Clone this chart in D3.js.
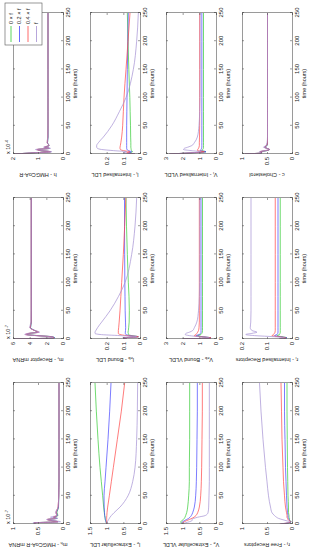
<!DOCTYPE html>
<html>
<head>
<meta charset="utf-8">
<script src="https://cdn.jsdelivr.net/npm/d3@7"></script>
<style>
  body { margin: 0; background: #fff; }
  text { font-family: "Liberation Sans", Arial, sans-serif; fill: #222; }
</style>
</head>
<body>
<div id="chart"></div>
<script>
// sample times shared by every panel
const hours = [0, 2, 4, 6, 8, 10, 12, 15, 20, 30, 50, 75, 100, 150, 200, 250];
const timeTicks = [0, 50, 100, 150, 200, 250];
const seriesNames = ["0 \u00d7 f", "0.2 \u00d7 f", "0.4 \u00d7 f", "f"];
const seriesColors = ["#33cc33", "#4444ff", "#ff4444", "#a48fd2"];

// each panel: [green, blue, red, purple]
const mhRna = [
  [0.55, 0.58, 0.10, 0.22, 0.30, 0.12, 0.18, 0.10, 0.12, 0.09, 0.085, 0.08, 0.08, 0.08, 0.08, 0.08],
  [0.55, 0.58, 0.10, 0.22, 0.30, 0.13, 0.19, 0.11, 0.13, 0.09, 0.085, 0.08, 0.08, 0.08, 0.08, 0.08],
  [0.55, 0.58, 0.10, 0.23, 0.32, 0.14, 0.20, 0.12, 0.14, 0.10, 0.085, 0.08, 0.08, 0.08, 0.08, 0.08],
  [0.55, 0.60, 0.05, 0.20, 0.33, 0.10, 0.25, 0.12, 0.15, 0.10, 0.085, 0.08, 0.08, 0.08, 0.08, 0.08]
];
const mrRna = [
  [5.8, 1.0, 1.3, 3.0, 4.3, 4.0, 3.1, 3.4, 3.9, 3.8, 3.8, 3.8, 3.8, 3.8, 3.8, 3.8],
  [5.8, 1.0, 1.3, 3.1, 4.4, 4.0, 3.0, 3.4, 3.9, 3.8, 3.8, 3.8, 3.8, 3.8, 3.8, 3.8],
  [5.8, 1.1, 1.4, 3.2, 4.5, 4.1, 2.9, 3.4, 3.95, 3.82, 3.82, 3.82, 3.82, 3.82, 3.82, 3.82],
  [5.8, 1.2, 1.5, 3.3, 4.6, 4.2, 2.8, 3.3, 4.0, 3.85, 3.83, 3.83, 3.83, 3.83, 3.83, 3.83]
];
const hmgcoar = [
  [1.95, 1.2, 0.50, 0.90, 1.00, 0.55, 0.72, 0.56, 0.62, 0.60, 0.60, 0.60, 0.60, 0.60, 0.60, 0.60],
  [1.95, 1.2, 0.50, 0.90, 1.02, 0.55, 0.73, 0.56, 0.62, 0.60, 0.60, 0.60, 0.60, 0.60, 0.60, 0.60],
  [1.95, 1.2, 0.50, 0.90, 1.05, 0.55, 0.75, 0.56, 0.63, 0.61, 0.60, 0.60, 0.60, 0.60, 0.60, 0.60],
  [1.95, 1.25, 0.45, 0.85, 1.10, 0.50, 0.78, 0.55, 0.64, 0.61, 0.60, 0.60, 0.60, 0.60, 0.60, 0.60]
];
const leLdl = [
  [1, 1.01, 1.02, 1.03, 1.04, 1.045, 1.05, 1.06, 1.07, 1.09, 1.12, 1.16, 1.20, 1.26, 1.31, 1.35],
  [1, 1.01, 1.02, 1.03, 1.04, 1.045, 1.05, 1.06, 1.065, 1.075, 1.08, 1.05, 1.02, 0.96, 0.91, 0.87],
  [1, 1.0, 1.0, 1.0, 1.0, 1.0, 1.0, 0.995, 0.99, 0.97, 0.92, 0.86, 0.80, 0.68, 0.56, 0.46],
  [1, 0.99, 0.98, 0.96, 0.94, 0.92, 0.90, 0.86, 0.78, 0.60, 0.36, 0.22, 0.15, 0.10, 0.08, 0.07]
];
const lebLdl = [
  [0.08, 0.10, 0.01, 0.05, 0.07, 0.07, 0.072, 0.07, 0.068, 0.065, 0.064, 0.066, 0.07, 0.076, 0.081, 0.084],
  [0.08, 0.10, 0.01, 0.06, 0.085, 0.088, 0.088, 0.087, 0.086, 0.087, 0.089, 0.09, 0.091, 0.092, 0.093, 0.093],
  [0.08, 0.10, 0.01, 0.08, 0.12, 0.13, 0.13, 0.13, 0.128, 0.125, 0.12, 0.115, 0.11, 0.10, 0.092, 0.085],
  [0.08, 0.10, 0.02, 0.12, 0.24, 0.27, 0.27, 0.265, 0.255, 0.23, 0.18, 0.13, 0.09, 0.05, 0.03, 0.02]
];
const liLdl = [
  [0.03, 0.06, 0.045, 0.05, 0.053, 0.054, 0.055, 0.055, 0.055, 0.056, 0.057, 0.059, 0.061, 0.067, 0.072, 0.076],
  [0.03, 0.07, 0.05, 0.07, 0.078, 0.08, 0.08, 0.08, 0.08, 0.08, 0.08, 0.079, 0.078, 0.076, 0.073, 0.07],
  [0.03, 0.08, 0.06, 0.10, 0.118, 0.12, 0.12, 0.118, 0.115, 0.11, 0.104, 0.10, 0.096, 0.084, 0.072, 0.06],
  [0.03, 0.10, 0.08, 0.16, 0.23, 0.255, 0.26, 0.26, 0.25, 0.22, 0.17, 0.124, 0.084, 0.04, 0.02, 0.01]
];
const veVldl = [
  [1, 1.05, 1.06, 1.02, 0.98, 0.95, 0.93, 0.91, 0.88, 0.85, 0.82, 0.80, 0.80, 0.79, 0.79, 0.79],
  [1, 1.03, 1.00, 0.95, 0.88, 0.82, 0.78, 0.74, 0.70, 0.65, 0.61, 0.59, 0.58, 0.57, 0.56, 0.56],
  [1, 1.00, 0.95, 0.88, 0.80, 0.72, 0.66, 0.60, 0.55, 0.50, 0.46, 0.44, 0.43, 0.42, 0.41, 0.41],
  [1, 0.92, 0.80, 0.72, 0.72, 0.66, 0.55, 0.32, 0.24, 0.22, 0.21, 0.20, 0.20, 0.20, 0.20, 0.20]
];
const vebVldl = [
  [2.0, 0.3, 0.8, 1.1, 0.9, 0.85, 0.82, 0.81, 0.81, 0.81, 0.81, 0.81, 0.81, 0.81, 0.81, 0.81],
  [2.0, 0.3, 0.8, 1.2, 1.0, 0.93, 0.90, 0.90, 0.90, 0.90, 0.90, 0.90, 0.90, 0.90, 0.90, 0.90],
  [2.0, 0.3, 0.9, 1.3, 1.2, 1.15, 1.10, 1.05, 1.02, 1.0, 1.0, 1.0, 1.0, 1.0, 1.0, 1.0],
  [2.0, 0.4, 1.0, 1.6, 1.85, 1.80, 1.60, 1.40, 1.30, 1.15, 1.05, 1.0, 0.98, 0.97, 0.97, 0.97]
];
const viVldl = [
  [2.8, 1.5, 0.6, 0.85, 0.80, 0.76, 0.75, 0.75, 0.75, 0.75, 0.75, 0.75, 0.75, 0.75, 0.75, 0.75],
  [2.8, 1.5, 0.6, 0.95, 0.90, 0.87, 0.85, 0.85, 0.85, 0.85, 0.85, 0.85, 0.85, 0.85, 0.85, 0.85],
  [2.8, 1.5, 0.7, 1.10, 1.10, 1.05, 1.02, 1.0, 1.0, 0.99, 0.98, 0.98, 0.98, 0.98, 0.98, 0.98],
  [2.8, 1.6, 0.9, 1.50, 1.95, 1.90, 1.70, 1.45, 1.30, 1.12, 1.02, 0.98, 0.96, 0.95, 0.95, 0.95]
];
const rfFree = [
  [0.20, 0.05, 0.02, 0.04, 0.05, 0.05, 0.06, 0.06, 0.07, 0.07, 0.08, 0.085, 0.09, 0.095, 0.10, 0.10],
  [0.22, 0.06, 0.02, 0.05, 0.06, 0.07, 0.08, 0.08, 0.09, 0.10, 0.11, 0.12, 0.13, 0.14, 0.15, 0.15],
  [0.24, 0.08, 0.03, 0.06, 0.08, 0.09, 0.10, 0.10, 0.11, 0.13, 0.15, 0.17, 0.18, 0.20, 0.21, 0.22],
  [0.25, 0.10, 0.05, 0.12, 0.20, 0.27, 0.31, 0.35, 0.40, 0.43, 0.47, 0.50, 0.53, 0.58, 0.62, 0.65]
];
const riInt = [
  [0.05, 0.02, 0.04, 0.06, 0.05, 0.048, 0.047, 0.047, 0.047, 0.047, 0.047, 0.047, 0.047, 0.047, 0.047, 0.047],
  [0.05, 0.02, 0.045, 0.07, 0.06, 0.057, 0.056, 0.056, 0.056, 0.056, 0.056, 0.056, 0.056, 0.056, 0.056, 0.056],
  [0.05, 0.025, 0.05, 0.08, 0.075, 0.07, 0.068, 0.067, 0.067, 0.067, 0.067, 0.067, 0.067, 0.067, 0.067, 0.067],
  [0.05, 0.03, 0.07, 0.15, 0.185, 0.16, 0.14, 0.16, 0.167, 0.165, 0.164, 0.164, 0.164, 0.164, 0.164, 0.164]
];
const chol = [
  [0.95, 0.60, 0.62, 0.50, 0.45, 0.50, 0.54, 0.50, 0.49, 0.49, 0.49, 0.49, 0.49, 0.49, 0.49, 0.49],
  [0.95, 0.60, 0.63, 0.51, 0.45, 0.50, 0.55, 0.50, 0.49, 0.49, 0.49, 0.49, 0.49, 0.49, 0.49, 0.49],
  [0.95, 0.61, 0.64, 0.53, 0.45, 0.50, 0.55, 0.51, 0.49, 0.49, 0.49, 0.49, 0.49, 0.49, 0.49, 0.49],
  [0.95, 0.62, 0.65, 0.55, 0.45, 0.50, 0.57, 0.52, 0.50, 0.49, 0.49, 0.49, 0.49, 0.49, 0.49, 0.49]
];

const panels = [
  {row: 0, col: 0, sym: "m", sub: "h", rest: " - HMGCoA-R mRNA", max: 1, ticks: [0, 0.5, 1], exp: "-7", values: mhRna},
  {row: 0, col: 1, sym: "m", sub: "r", rest: " - Receptor mRNA", max: 6, ticks: [0, 2, 4, 6], exp: "-7", values: mrRna},
  {row: 0, col: 2, sym: "h", sub: "", rest: " - HMGCoA-R", max: 2, ticks: [0, 1, 2], exp: "-4", values: hmgcoar},
  {row: 1, col: 0, sym: "l", sub: "e", rest: " - Extracellular LDL", max: 1.5, ticks: [0, 0.5, 1, 1.5], values: leLdl},
  {row: 1, col: 1, sym: "l", sub: "eb", rest: " - Bound LDL", max: 0.3, ticks: [0, 0.1, 0.2], values: lebLdl},
  {row: 1, col: 2, sym: "l", sub: "i", rest: " - Internalised LDL", max: 0.3, ticks: [0, 0.1, 0.2], values: liLdl},
  {row: 2, col: 0, sym: "V", sub: "e", rest: " - Extracellular VLDL", max: 1.5, ticks: [0, 0.5, 1, 1.5], values: veVldl},
  {row: 2, col: 1, sym: "V", sub: "eb", rest: " - Bound VLDL", max: 3, ticks: [0, 1, 2, 3], values: vebVldl},
  {row: 2, col: 2, sym: "V", sub: "i", rest: " - Internalised VLDL", max: 3, ticks: [0, 1, 2, 3], values: viVldl},
  {row: 3, col: 0, sym: "r", sub: "f", rest: " - Free Receptors", max: 1, ticks: [0, 0.5, 1], values: rfFree},
  {row: 3, col: 1, sym: "r", sub: "i", rest: " - Internalised Receptors", max: 0.2, ticks: [0, 0.1, 0.2], values: riInt},
  {row: 3, col: 2, sym: "c", sub: "", rest: " - Cholesterol", max: 1, ticks: [0, 0.5, 1], values: chol}
];

// the figure is laid out 550 x 313 and turned a quarter turn to fit the page
const svg = d3.select("#chart").append("svg")
    .attr("width", 313)
    .attr("height", 550);

const fig = svg.append("g")
    .attr("transform", "translate(0,550) rotate(-90)");

const colLeft = [26, 211, 396];
const rowTop = [13, 90, 166, 242];
const pw = 141, ph = 50;
const axisColor = "#555";

const x = d3.scaleLinear().domain([0, 250]).range([0, pw]);

panels.forEach(function(p, k) {
  const y = d3.scaleLinear().domain([0, p.max]).range([ph, 0]);
  const pg = fig.append("g")
      .attr("transform", "translate(" + colLeft[p.col] + "," + rowTop[p.row] + ")");

  pg.append("clipPath").attr("id", "clip" + k)
    .append("rect").attr("width", pw).attr("height", ph);

  const line = d3.line()
      .x(function(d, i) { return x(hours[i]); })
      .y(function(d) { return y(d); })
      .curve(d3.curveMonotoneX);

  pg.append("g").attr("clip-path", "url(#clip" + k + ")")
    .selectAll("path")
    .data(p.values)
    .join("path")
      .attr("d", line)
      .attr("fill", "none")
      .attr("stroke", function(d, i) { return seriesColors[i]; })
      .attr("stroke-width", 0.7);

  // box and inward ticks on all four sides
  const bottom = pg.append("g").attr("transform", "translate(0," + ph + ")")
      .call(d3.axisBottom(x).tickValues(timeTicks).tickSize(-2).tickPadding(3).tickFormat(d3.format("d")));
  const top = pg.append("g")
      .call(d3.axisTop(x).tickValues(timeTicks).tickSize(-2).tickFormat(""));
  const left = pg.append("g")
      .call(d3.axisLeft(y).tickValues(p.ticks).tickSize(-2).tickPadding(3).tickFormat(function(v) { return String(v); }));
  const right = pg.append("g").attr("transform", "translate(" + pw + ",0)")
      .call(d3.axisRight(y).tickValues(p.ticks).tickSize(-2).tickFormat(""));

  [bottom, top, left, right].forEach(function(a) {
    a.select(".domain").attr("stroke", axisColor).attr("stroke-width", 0.6);
    a.selectAll(".tick line").attr("stroke", axisColor).attr("stroke-width", 0.6);
    a.selectAll(".tick text").attr("font-size", 6).attr("fill", "#222")
      .attr("font-family", "Liberation Sans, Arial, sans-serif");
  });

  pg.append("text")
      .attr("x", pw / 2)
      .attr("y", ph + 14)
      .attr("text-anchor", "middle")
      .attr("font-size", 5.5)
      .text("time (hours)");

  const yl = pg.append("text")
      .attr("transform", "translate(-19," + (ph / 2) + ") rotate(-90)")
      .attr("text-anchor", "middle")
      .attr("font-size", 5.5);
  yl.append("tspan").text(p.sym);
  if (p.sub) {
    yl.append("tspan").attr("font-size", 4).attr("dy", 1.5).text(p.sub);
    yl.append("tspan").attr("dy", -1.5).text(p.rest);
  } else {
    yl.append("tspan").text(p.rest);
  }

  if (p.exp) {
    const ex = pg.append("text")
        .attr("x", 0)
        .attr("y", -3)
        .attr("font-size", 5.5);
    ex.append("tspan").text("x 10");
    ex.append("tspan").attr("font-size", 4).attr("dy", -2.5).text(p.exp);
  }
});

// legend
const legend = fig.append("g").attr("transform", "translate(505,5)");
legend.append("rect")
    .attr("width", 42)
    .attr("height", 37)
    .attr("fill", "#fff")
    .attr("stroke", axisColor)
    .attr("stroke-width", 0.6);

const items = legend.selectAll("g.item")
    .data(seriesNames)
    .join("g")
      .attr("class", "item")
      .attr("transform", function(d, i) { return "translate(0," + (6 + i * 8.5) + ")"; });

items.append("line")
    .attr("x1", 3).attr("x2", 19)
    .attr("stroke", function(d, i) { return seriesColors[i]; })
    .attr("stroke-width", 0.8);

items.append("text")
    .attr("x", 21)
    .attr("dy", "0.35em")
    .attr("font-size", 5.5)
    .text(function(d) { return d; });
</script>
</body>
</html>
